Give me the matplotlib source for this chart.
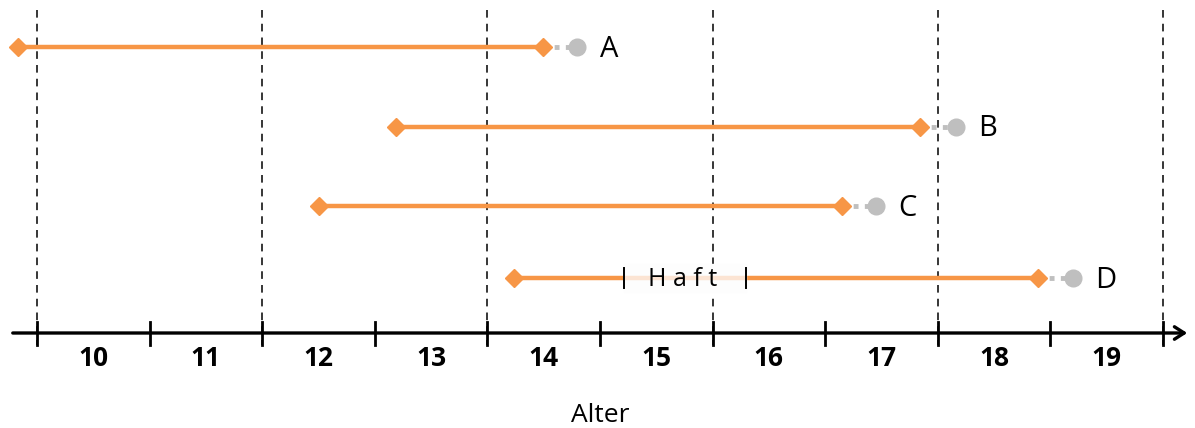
import matplotlib.pyplot as plt

# Daten
persons = ['A', 'B', 'C', 'D']
start_age = [9.83, 13.19, 12.50, 14.24]
end_age = [14.49, 17.84, 17.15, 18.89]
point_age = [14.80, 18.16, 17.45, 19.20]
haft_start = 15.21
haft_end = 16.30
haft_person = 'D'
age_labels = list(range(10, 20))
grid_ages = [10, 12, 14, 16, 18, 20]

# Layout (y in Pixeln von oben)
row_y = [47, 127, 206, 278]
axis_y = 333
orange = '#F79646'
grey = '#BFBFBF'

plt.rcParams['font.family'] = ['Open Sans', 'DejaVu Sans']

fig = plt.figure(figsize=(11.95, 4.28), dpi=100)
ax = fig.add_axes([0, 0, 1, 1])
px = 112.6
ax.set_xlim(10 - 37 / px, 10 + 1158 / px)
ax.set_ylim(428, 0)
ax.axis('off')

# gestrichelte Linien
for g in grid_ages:
    ax.plot([g, g], [10, 345], color='black', lw=1.1, ls=(0, (5, 4)), zorder=1)

# Zeitstrahlen
for name, s, e, p, y in zip(persons, start_age, end_age, point_age, row_y):
    ax.plot([e, p], [y, y], color=grey, lw=3.5, ls=(0, (1, 1.3)), zorder=2)
    ax.plot(p, y, 'o', color=grey, ms=12, zorder=3)
    if name == haft_person:
        ax.plot([s, haft_start], [y, y], color=orange, lw=3.2, zorder=2, solid_capstyle='butt')
        ax.plot([haft_end, e], [y, y], color=orange, lw=3.2, zorder=2, solid_capstyle='butt')
        ax.fill_between([haft_start, haft_end], y - 14, y + 14, color='#FDFDFD', zorder=2.5)
        ax.plot([haft_start, haft_end], [y, y], color='#FCE4D3', lw=3.2, zorder=2.6, solid_capstyle='butt')
        for h in (haft_start, haft_end):
            ax.plot([h, h], [y - 10, y + 10], color='black', lw=1.4, zorder=3)
        ax.text((haft_start + haft_end) / 2 - 0.02, y + 1, 'H a f t', fontsize=18, ha='center', va='center', zorder=4)
    else:
        ax.plot([s, e], [y, y], color=orange, lw=3.2, zorder=2)
    ax.plot([s, e], [y, y], 'D', color=orange, ms=9, ls='none', zorder=3)
    ax.text(p + 0.2, y + 2, name, fontsize=21, ha='left', va='center')

# Achse
ax.annotate('', xy=(10 + 1190 / px - 37 / px, axis_y), xytext=(10 - 27 / px, axis_y),
            arrowprops=dict(arrowstyle='->, head_length=0.7, head_width=0.45', color='black', lw=2.4))
for t in range(10, 21):
    ax.plot([t, t], [322, 345], color='black', lw=2, zorder=3)
for a in age_labels:
    ax.text(a + 0.5, 359, str(a), fontsize=19, fontweight='bold', ha='center', va='center')
ax.text(15.0, 415, 'Alter', fontsize=19, ha='center', va='center')

fig.savefig('out.png', dpi=100)
